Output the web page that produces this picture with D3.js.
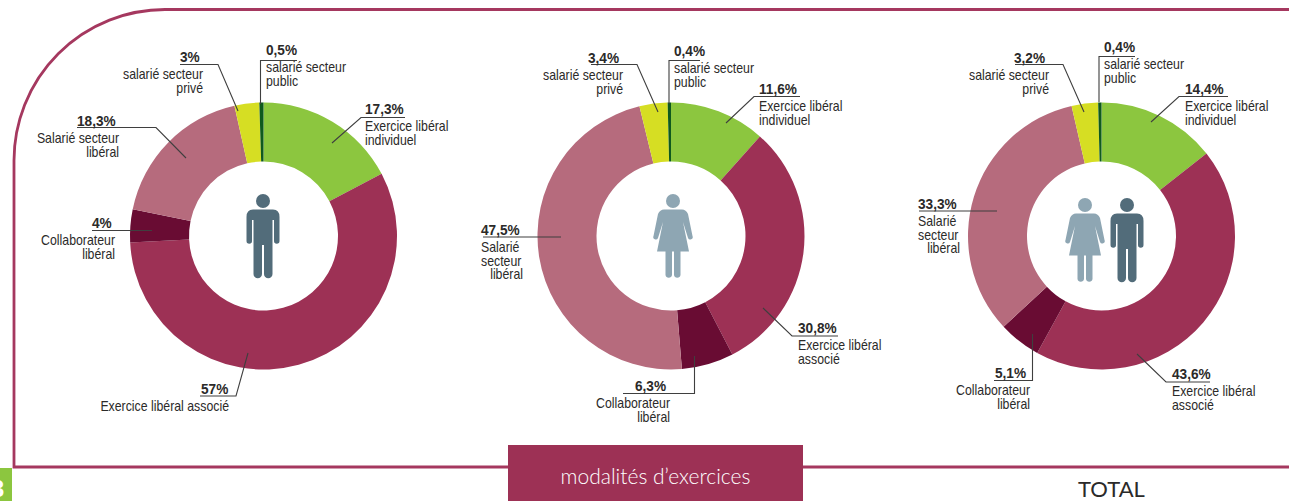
<!DOCTYPE html>
<html>
<head>
<meta charset="utf-8">
<script src="https://cdn.jsdelivr.net/npm/d3@7"></script>
<style>
  html, body { margin: 0; padding: 0; background: #fff; }
  svg { display: block; }
  text { font-family: "Liberation Sans", sans-serif; fill: #2b2a29; }
  .val { font-weight: bold; font-size: 15.5px; }
  .lab { font-size: 14px; }
  .lead { fill: none; stroke: #3f3f3f; stroke-width: 1.1; }
</style>
</head>
<body>
<div id="container"></div>
<script>
const categories = ["Exercice libéral individuel", "Exercice libéral associé", "Collaborateur libéral", "Salarié secteur libéral", "salarié secteur privé", "salarié secteur public"];
const hommes = [17.3, 57, 4, 18.3, 3, 0.5];
const femmes = [11.6, 30.8, 6.3, 47.5, 3.4, 0.4];
const total = [14.4, 43.6, 5.1, 33.3, 3.2, 0.4];
const colors = ["#8cc63f", "#9d3155", "#690c33", "#b66b7d", "#d6de23", "#0f5a1e"];

const width = 1289, height = 501;
const outer = 133.5, inner = 74.5;
const cy = 236;
const narrow = 0.88;

const svg = d3.select("#container").append("svg")
  .attr("width", width)
  .attr("height", height);

// cadre
svg.append("path")
  .attr("d", "M1289,9.5 H165 A151,151 0 0 0 14,160.5 V467 H1289")
  .attr("fill", "none")
  .attr("stroke", "#a5385f")
  .attr("stroke-width", 2.8);

// numero de page, coupe par le bord
svg.append("rect").attr("x", 0).attr("y", 468).attr("width", 12).attr("height", 33).attr("fill", "#8cc63f");
svg.append("text").attr("x", 4).attr("y", 497).attr("text-anchor", "end")
  .style("font-weight", "bold").style("font-size", "24px").style("fill", "#fff")
  .text("8");

svg.append("rect").attr("x", 508).attr("y", 445).attr("width", 295).attr("height", 56).attr("fill", "#9d3155");
svg.append("text").attr("x", 655.5).attr("y", 484).attr("text-anchor", "middle")
  .style("font-family", "Lato, sans-serif").style("font-weight", 300).style("font-size", "21px").style("fill", "#fff")
  .text("modalités d’exercices");
svg.append("text").attr("x", 1111.5).attr("y", 497).attr("text-anchor", "middle")
  .style("font-family", "Lato, sans-serif").style("font-size", "22px")
  .text("TOTAL");

const pie = d3.pie().sort(null).value(d => d);
const arc = d3.arc().innerRadius(inner).outerRadius(outer);

function donut(cx, values) {
  const g = svg.append("g").attr("transform", "translate(" + cx + "," + cy + ")");
  g.selectAll("path")
    .data(pie(values))
    .enter()
    .append("path")
    .attr("d", arc)
    .attr("fill", (d, i) => colors[i]);
}
donut(263.5, hommes);
donut(671, femmes);
donut(1101.5, total);

// silhouettes
function homme(x, y) {
  const g = svg.append("g").attr("transform", "translate(" + x + "," + y + ")").attr("fill", "#526c7a");
  g.append("circle").attr("cx", 0).attr("cy", 7).attr("r", 7);
  g.append("path").attr("d", "M-10,15.5 H10 Q16.5,15.5 16.5,23 V47 A2.7,2.7 0 0 1 11,47 V26 H9.5 V80 A4,4 0 0 1 1,80 V51 H-1 V80 A4,4 0 0 1 -9.5,80 V26 H-11 V47 A2.7,2.7 0 0 1 -16.5,47 V23 Q-16.5,15.5 -10,15.5 Z");
}
function femme(x, y) {
  const g = svg.append("g").attr("transform", "translate(" + x + "," + y + ")").attr("fill", "#8ea6b3");
  g.append("circle").attr("cx", 0).attr("cy", 7).attr("r", 7);
  g.append("path").attr("d", "M-9,15.5 H9 Q13,15.5 15,20 L19.5,42 A2.3,2.3 0 0 1 15,44 L10,28 L16,57.5 H7.5 V81 A3.3,3.3 0 0 1 1,81 V57.5 H-1 V81 A3.3,3.3 0 0 1 -7.5,81 V57.5 H-16 L-10,28 L-15,44 A2.3,2.3 0 0 1 -19.5,42 L-15,20 Q-13,15.5 -9,15.5 Z");
}
homme(263, 194);
femme(673, 194);
femme(1085, 198);
homme(1127, 198);

// libelles : [valeur, x, y, [lignes], points du trait, bord droit des lignes]
const labels = [
  ["0,5%", 266, 55, ["salarié secteur", "public"], [[297, 60.5], [260.5, 60.5], [260.5, 104]]],
  ["3%", 180, 62, ["salarié secteur", "privé"], [[180, 64.5], [218, 64.5], [238, 111]], 203],
  ["17,3%", 365, 114, ["Exercice libéral", "individuel"], [[405, 117.5], [361, 117.5], [332, 143]]],
  ["18,3%", 77, 126, ["Salarié secteur", "libéral"], [[77, 127.5], [156, 127.5], [186, 158]], 119],
  ["4%", 92, 228, ["Collaborateur", "libéral"], [[92, 230.5], [152, 230.5]], 115],
  ["57%", 201, 394, ["Exercice libéral associé"], [[200, 396], [236, 396], [248, 353]], 229],
  ["0,4%", 674, 56, ["salarié secteur", "public"], [[700, 60.5], [669, 60.5], [669, 104]]],
  ["3,4%", 588, 63, ["salarié secteur", "privé"], [[591, 64.5], [637, 64.5], [658, 112]], 623],
  ["11,6%", 759, 94, ["Exercice libéral", "individuel"], [[800, 96.5], [754, 96.5], [726, 123]]],
  ["47,5%", 481, 235, ["Salarié", "secteur", "libéral"], [[483, 237], [561, 237]]],
  ["30,8%", 798, 333, ["Exercice libéral", "associé"], [[838, 336], [792, 336], [763, 308]]],
  ["6,3%", 635, 391, ["Collaborateur", "libéral"], [[623, 393.5], [694.5, 393.5], [694.5, 356]], 670],
  ["0,4%", 1104, 52, ["salarié secteur", "public"], [[1135, 56.5], [1099, 56.5], [1099, 102]]],
  ["3,2%", 1014, 63, ["salarié secteur", "privé"], [[1015, 64.5], [1063, 64.5], [1084, 112]], 1049],
  ["14,4%", 1185, 94, ["Exercice libéral", "individuel"], [[1228, 96.5], [1179, 96.5], [1151, 122]]],
  ["33,3%", 918, 209, ["Salarié", "secteur", "libéral"], [[919, 211], [997, 211]]],
  ["5,1%", 995, 378, ["Collaborateur", "libéral"], [[994, 380.5], [1032.5, 380.5], [1032.5, 334]], 1030],
  ["43,6%", 1172, 379, ["Exercice libéral", "associé"], [[1210, 382], [1166, 382], [1137, 354]]]
];
const line = d3.line();

function put(x, y, cls, anchor, str) {
  svg.append("text").attr("class", cls)
    .attr("transform", "translate(" + x + "," + y + ") scale(" + narrow + ",1)")
    .attr("text-anchor", anchor)
    .text(str);
}

labels.forEach(function (l) {
  svg.append("path").attr("class", "lead").attr("d", line(l[4]));
  put(l[1], l[2], "val", "start", l[0]);
  l[3].forEach(function (t, i) {
    const y = l[2] + 17 + i * 13.5;
    if (l[5] !== undefined) put(l[5], y, "lab", "end", t);
    // les colonnes Salarie / secteur / liberal : dernier mot cale a droite
    else if (l[3].length === 3 && i === 2) put(l[1] + 42, y, "lab", "end", t);
    else put(l[1], y, "lab", "start", t);
  });
});
</script>
</body>
</html>
